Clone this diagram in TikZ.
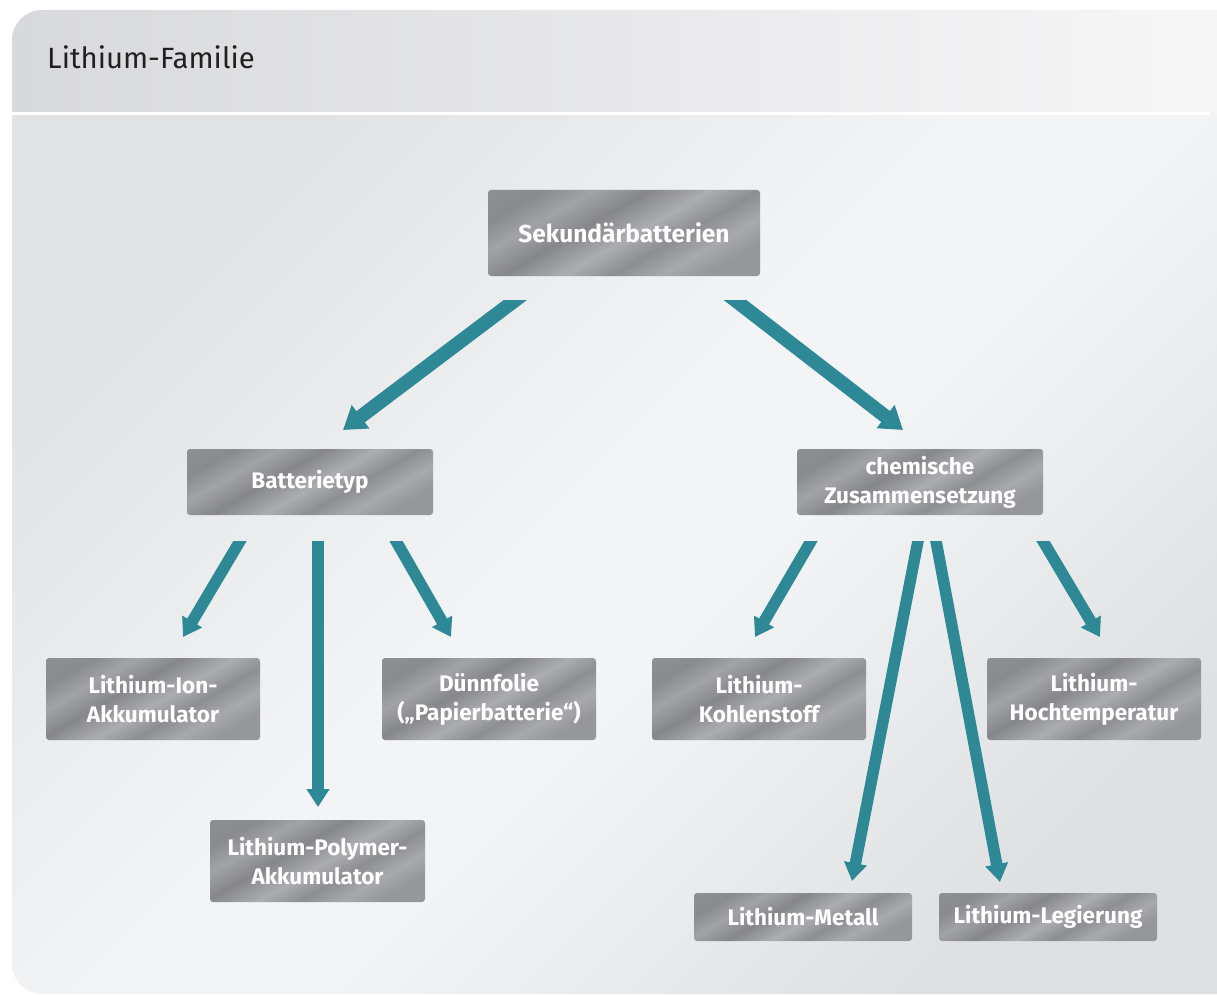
\documentclass[tikz,border=0pt]{standalone}
\usepackage{fontspec}
\setmainfont{Fira Sans}
\usetikzlibrary{arrows.meta,calc}
\definecolor{arrowc}{RGB}{46,136,150}
\definecolor{titlec}{RGB}{35,31,32}
\definecolor{mA}{RGB}{150,151,155}
\definecolor{mB}{RGB}{138,139,143}
\definecolor{mC}{RGB}{162,163,167}
\definecolor{mD}{RGB}{134,135,139}
\definecolor{mE}{RGB}{172,173,177}
\definecolor{mF}{RGB}{141,142,146}
\definecolor{mG}{RGB}{168,169,173}
\definecolor{hdA}{RGB}{216,217,220}
\definecolor{hdB}{RGB}{247,247,248}
\definecolor{bgA}{RGB}{226,227,229}
\definecolor{bgB}{RGB}{243,244,245}
\definecolor{bgC}{RGB}{223,224,226}
\pgfdeclarehorizontalshading{metal}{100bp}{color(0bp)=(mA); color(25bp)=(mB); color(33bp)=(mC); color(42bp)=(mD); color(52bp)=(mE); color(60bp)=(mF); color(68bp)=(mG); color(75bp)=(mA); color(100bp)=(mA)}
\pgfdeclarehorizontalshading{hdshade}{100bp}{color(0bp)=(hdA); color(25bp)=(hdA); color(75bp)=(hdB); color(100bp)=(hdB)}
\pgfdeclarehorizontalshading{bgshade}{100bp}{color(0bp)=(bgA); color(25bp)=(bgA); color(47bp)=(bgB); color(55bp)=(bgB); color(75bp)=(bgC); color(100bp)=(bgC)}
\tikzset{
  box/.style={rounded corners=3pt, shading=metal, shading angle=-60, text=white, align=center, inner sep=0pt, font=\bfseries\fontsize{22.5}{29}\selectfont},
  arrbig/.style={draw=arrowc, line width=14pt, -{Triangle[width=28pt,length=22pt]}},
  arrsmall/.style={draw=arrowc, line width=11.5pt, -{Triangle[width=22pt,length=18pt]}}
}
\begin{document}
\begin{tikzpicture}[x=1pt,y=-1pt]
\useasboundingbox (0,0) rectangle (1217,995);
% panel
\begin{scope}
  \clip (0,0) rectangle (1217,995);
  \clip[rounded corners=30pt] (12,10) rectangle (1260,994);
  \shade[shading=hdshade] (12,10) rectangle (1217,114);
  \shade[shading=bgshade, shading angle=-45] (12,114) rectangle (1217,994);
\end{scope}
\fill[white] (12,112.5) rectangle (1210,115.5);
\node[anchor=base west, font=\fontsize{29.3}{36}\selectfont, text=titlec, inner sep=0pt] (title) at (47,69) {Lithium-Familie};
% nodes
\node[box, minimum width=272pt, minimum height=86pt, font=\bfseries\fontsize{24.5}{30}\selectfont] (sek) at (624,233) {Sekundärbatterien};
\node[box, minimum width=246pt, minimum height=66pt] (bat) at (310,482) {Batterietyp};
\node[box, minimum width=246pt, minimum height=66pt] (chem) at (920,482) {chemische\\Zusammensetzung};
\node[box, minimum width=214pt, minimum height=82pt] (ion) at (153,699) {Lithium-Ion-\\Akkumulator};
\node[box, minimum width=214pt, minimum height=82pt] (duenn) at (489,699) {Dünnfolie\\(„Papierbatterie“)};
\node[box, minimum width=215pt, minimum height=82pt] (poly) at (317.5,861) {Lithium-Polymer-\\Akkumulator};
\node[box, minimum width=214pt, minimum height=82pt] (kohle) at (759,699) {Lithium-\\Kohlenstoff};
\node[box, minimum width=214pt, minimum height=82pt] (hoch) at (1094,699) {Lithium-\\Hochtemperatur};
\node[box, minimum width=218pt, minimum height=48pt] (metall) at (803,917) {Lithium-Metall};
\node[box, minimum width=218pt, minimum height=48pt] (leg) at (1048,917) {Lithium-Legierung};
% arrow coordinates
\coordinate (tA) at (514,301); \coordinate (hA) at (343,430);
\coordinate (tB) at (735,300); \coordinate (hB) at (903,430);
\coordinate (tC) at (240,541); \coordinate (hC) at (183,637);
\coordinate (tD) at (318,541); \coordinate (hD) at (318,807);
\coordinate (tE) at (396,541); \coordinate (hE) at (451,637);
\coordinate (tF) at (811,541); \coordinate (hF) at (755,637);
\coordinate (tG) at (918,541); \coordinate (hG) at (852,881);
\coordinate (tH) at (936,541); \coordinate (hH) at (1000,882);
\coordinate (tI) at (1043,541); \coordinate (hI) at (1100,637);
\begin{scope}
  \clip (0,300) rectangle (1217,995);
  \draw[arrbig] ($(tA)!-20pt!(hA)$) -- (hA);
  \draw[arrbig] ($(tB)!-20pt!(hB)$) -- (hB);
\end{scope}
\begin{scope}
  \clip (0,541) rectangle (1217,995);
  \draw[arrsmall] ($(tC)!-20pt!(hC)$) -- (hC);
  \draw[arrsmall] ($(tD)!-20pt!(hD)$) -- (hD);
  \draw[arrsmall] ($(tE)!-20pt!(hE)$) -- (hE);
  \draw[arrsmall] ($(tF)!-20pt!(hF)$) -- (hF);
  \draw[arrsmall] ($(tG)!-20pt!(hG)$) -- (hG);
  \draw[arrsmall] ($(tH)!-20pt!(hH)$) -- (hH);
  \draw[arrsmall] ($(tI)!-20pt!(hI)$) -- (hI);
\end{scope}
\end{tikzpicture}
\end{document}
